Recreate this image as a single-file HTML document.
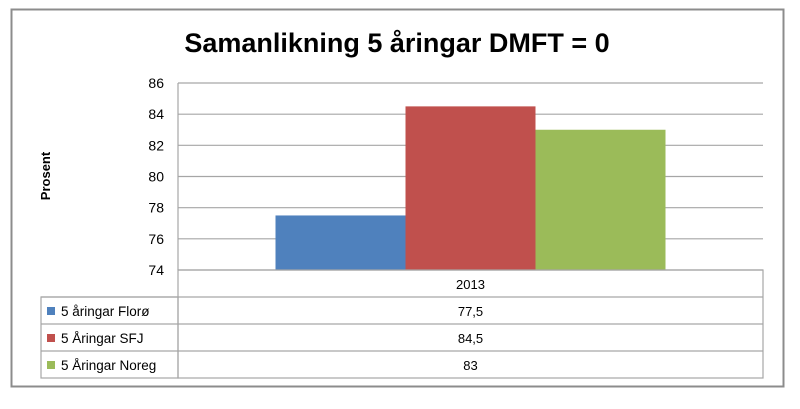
<!DOCTYPE html>
<html><head><meta charset="utf-8"><style>
body{margin:0;background:#fff;font-family:"Liberation Sans",sans-serif}
</style></head><body>
<svg width="800" height="404" xmlns="http://www.w3.org/2000/svg" font-family="Liberation Sans, sans-serif">
<rect x="11.5" y="9.5" width="772" height="377" fill="#fff" stroke="#8c8c8c" stroke-width="2"/>
<text x="397" y="52" text-anchor="middle" font-size="27" font-weight="bold">Samanlikning 5 åringar DMFT = 0</text>
<text transform="translate(50,176) rotate(-90)" text-anchor="middle" font-size="13" font-weight="bold">Prosent</text>
<g id="grid"></g><g id="bars"></g><g id="table"></g>
</svg>
<script>
const categories=["2013"];
const seriesNames=["5 åringar Florø","5 Åringar SFJ","5 Åringar Noreg"];
const seriesValues=[77.5,84.5,83];
const seriesLabels=["77,5","84,5","83"];
const seriesColors=["#4f81bd","#c0504d","#9bbb59"];
const ticks=[74,76,78,80,82,84,86];
const NS="http://www.w3.org/2000/svg";
const L=178,R=763,T=83,B=270,yMin=74,yMax=86;
const y=v=>B-(v-yMin)/(yMax-yMin)*(B-T);
function mk(tag,attrs,parent,txt){const e=document.createElementNS(NS,tag);for(const k in attrs)e.setAttribute(k,attrs[k]);if(txt!==undefined)e.textContent=txt;parent.appendChild(e);return e;}
const g=document.getElementById('grid'),b=document.getElementById('bars'),t=document.getElementById('table');
ticks.forEach(v=>{
 const l=mk('line',{x1:L,x2:R,y1:y(v),y2:y(v),stroke:'#a6a6a6','stroke-width':1.2},g);
 
 
 const tx=mk('text',{x:164,y:y(v)+5,'text-anchor':'end','font-size':14},g,String(v));
 
 
});
mk('line',{x1:L,x2:L,y1:T,y2:B,stroke:'#a6a6a6','stroke-width':1.2},g);
const groupW=(R-L)/categories.length, barW=130;
categories.forEach((c,ci)=>{
 const cx=L+groupW*(ci+0.5), x0=cx-barW*seriesValues.length/2;
 seriesValues.forEach((v,si)=>{
  const r=mk('rect',{x:x0+si*barW,y:Math.min(y(v),B),width:barW,height:Math.abs(B-y(v)),fill:seriesColors[si]},b);
  
  
 });
});
// data table
const rowH=27, tTop=270, tL=41;
const stroke={stroke:'#a6a6a6','stroke-width':1.2,fill:'none'};
mk('rect',Object.assign({x:L,y:tTop,width:R-L,height:rowH*(seriesNames.length+1)},stroke),t);
mk('rect',Object.assign({x:tL,y:tTop+rowH,width:L-tL,height:rowH*seriesNames.length},stroke),t);
const ct=mk('text',{x:(L+R)/2,y:tTop+19,'text-anchor':'middle','font-size':13},t,categories[0]);


seriesNames.forEach((n,i)=>{
 const ry=tTop+rowH*(i+1);
 mk('line',{x1:tL,x2:R,y1:ry,y2:ry,stroke:'#a6a6a6','stroke-width':1.2},t);
 const k=mk('rect',{x:47,y:ry+10,width:8,height:8,fill:seriesColors[i]},t);
 
 
 const nt=mk('text',{x:61,y:ry+19,'font-size':13.5},t,n);
 
 
 const vt=mk('text',{x:(L+R)/2,y:ry+19,'text-anchor':'middle','font-size':13},t,seriesLabels[i]);
 
 
});
</script>
</body></html>
